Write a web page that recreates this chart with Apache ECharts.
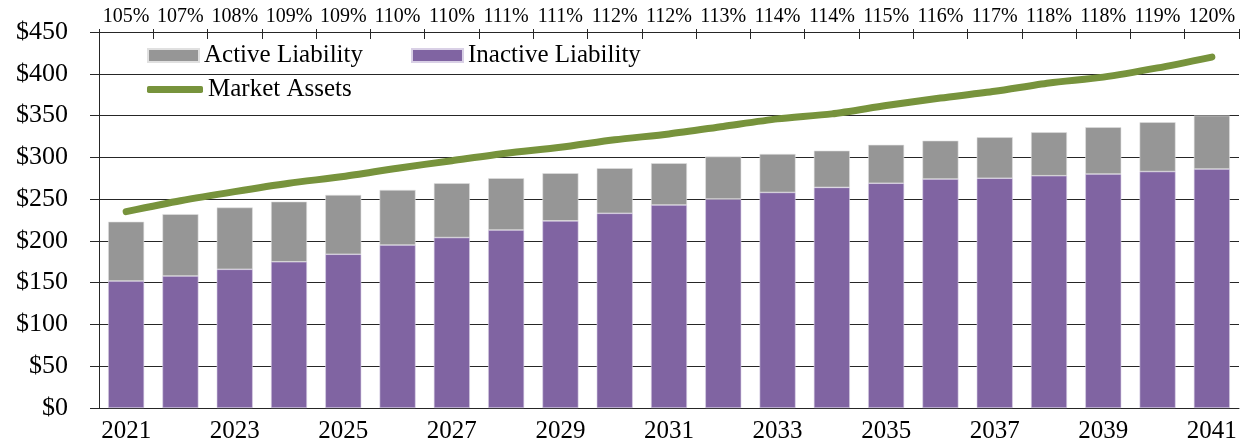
<!DOCTYPE html>
<html>
<head>
<meta charset="utf-8">
<script src="https://cdn.jsdelivr.net/npm/echarts@6/dist/echarts.min.js"></script>
<style>
  html, body { margin: 0; padding: 0; background: #fff; }
  #chart { width: 1249px; height: 448px; }
</style>
</head>
<body>
<div id="chart"></div>
<script>
// values ($ millions)
const years = ['2021', '2022', '2023', '2024', '2025', '2026', '2027', '2028', '2029', '2030', '2031',
  '2032', '2033', '2034', '2035', '2036', '2037', '2038', '2039', '2040', '2041']
const fundedRatio = ['105%', '107%', '108%', '109%', '109%', '110%', '110%', '111%', '111%', '112%', '112%',
  '113%', '114%', '114%', '115%', '116%', '117%', '118%', '118%', '119%', '120%']
const inactiveLiability = [152, 158, 166, 175, 184, 195, 204, 213, 224, 233, 243,
  250, 258, 264, 269, 274, 275, 278, 280, 283, 286]
const activeLiability = [71, 74, 74, 72, 71, 66, 65, 62, 57, 54, 50,
  51, 46, 44, 46, 46, 49, 52, 56, 59, 64]
const marketAssets = [235, 248, 259, 269, 277, 287, 296, 305, 312, 321, 328,
  337, 346, 352, 362, 371, 379, 389, 396, 407, 420]

const serif = 'Liberation Serif, Times New Roman, serif'
const lineColor = '#262626'

let chart = echarts.init(document.getElementById('chart'))
chart.setOption({
  animation: false,
  textStyle: { fontFamily: serif, color: '#000' },
  grid: { left: 99, right: 10, top: 32, bottom: 40 },
  legend: [{
    data: [{ name: 'Active Liability', icon: 'rect' }, { name: 'Inactive Liability', icon: 'rect' }],
    left: 142,
    top: 38,
    itemWidth: 51,
    itemHeight: 13,
    itemGap: 48,
    textStyle: { fontFamily: serif, fontSize: 25, color: '#000' }
  }, {
    data: [{ name: 'Market Assets', icon: 'roundRect' }],
    left: 142,
    top: 72,
    itemWidth: 56,
    itemHeight: 7,
    textStyle: { fontFamily: serif, fontSize: 25, color: '#000' }
  }],
  xAxis: [{
    type: 'category',
    data: years,
    position: 'bottom',
    axisLine: { lineStyle: { color: lineColor, width: 1 } },
    axisTick: { show: false },
    axisLabel: { interval: 1, fontSize: 25, margin: 11, color: '#000' }
  }, {
    type: 'category',
    data: fundedRatio,
    position: 'top',
    axisLine: { lineStyle: { color: lineColor, width: 1 } },
    axisTick: { show: true, inside: true, length: 7, lineStyle: { color: lineColor } },
    axisLabel: { interval: 0, fontSize: 20, margin: 5, color: '#000' }
  }, {
    // short outer stubs of the top ticks
    type: 'category',
    data: fundedRatio,
    position: 'top',
    axisLine: { show: false },
    axisTick: { show: true, length: 3, lineStyle: { color: lineColor } },
    axisLabel: { show: false }
  }],
  yAxis: {
    type: 'value',
    min: 0,
    max: 450,
    interval: 50,
    axisLine: { show: true, lineStyle: { color: lineColor, width: 1 } },
    axisTick: { show: true, length: 9, lineStyle: { color: lineColor } },
    splitLine: { lineStyle: { color: lineColor, width: 1 } },
    axisLabel: { fontSize: 26, margin: 31, color: '#000', formatter: '${value}' }
  },
  series: [{
    name: 'Inactive Liability',
    type: 'bar',
    stack: 'liab',
    barWidth: 36,
    data: inactiveLiability,
    itemStyle: { color: '#8064A2', borderColor: '#d9d0e6', borderWidth: 0.6 }
  }, {
    name: 'Active Liability',
    type: 'bar',
    stack: 'liab',
    barWidth: 36,
    data: activeLiability,
    itemStyle: { color: '#969696', borderColor: '#e0e0e0', borderWidth: 0.6 }
  }, {
    name: 'Market Assets',
    type: 'line',
    data: marketAssets,
    symbol: 'none',
    smooth: 0.25,
    z: 5,
    lineStyle: { color: '#77933C', width: 7, cap: 'round' },
    itemStyle: { color: '#77933C' }
  }]
})
</script>
</body>
</html>
